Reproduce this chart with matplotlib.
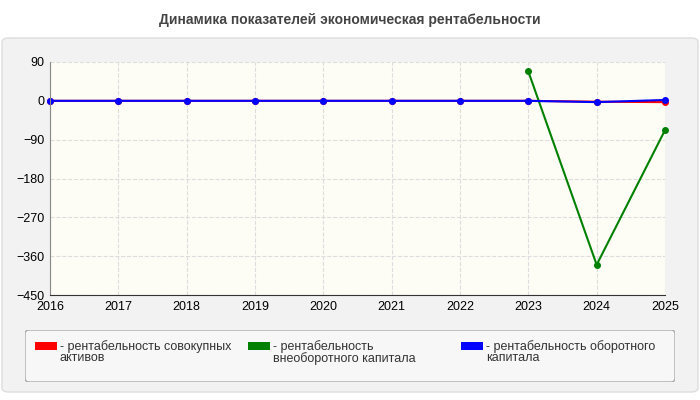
import matplotlib
matplotlib.use("Agg")
import matplotlib.pyplot as plt
from matplotlib.patches import FancyBboxPatch, Rectangle

plt.rcParams["font.family"] = ["Liberation Sans", "DejaVu Sans"]

title = "Динамика показателей экономическая рентабельности"
years = [2016, 2017, 2018, 2019, 2020, 2021, 2022, 2023, 2024, 2025]
red_vals = [0, 0, 0, 0, 0, 0, 0, 0, -2, -3]
green_years = [2023, 2024, 2025]
green_vals = [68, -380, -68]
blue_vals = [0, 0, 0, 0, 0, 0, 0, 0, -3, 2]
labels = ["- рентабельность совокупных\nактивов",
          "- рентабельность\nвнеоборотного капитала",
          "- рентабельность оборотного\nкапитала"]
colors = ["#ff0000", "#008000", "#0000ff"]
yticks = [90, 0, -90, -180, -270, -360, -450]

fig = plt.figure(figsize=(7, 4), dpi=100)
fig.patch.set_facecolor("white")
bg = FancyBboxPatch((2 / 700, 8 / 400), 696 / 700, 354 / 400, boxstyle="round,pad=0,rounding_size=0.01",
                    transform=fig.transFigure, facecolor="#f2f2f2", edgecolor="#dddddd", lw=1, zorder=-10)
fig.patches.append(bg)
fig.text(0.5, 1 - 20 / 400, title, ha="center", va="center", fontsize=10, fontweight="bold", color="#444444")

ax = fig.add_axes([50 / 700, 1 - 295 / 400, 615 / 700, 233 / 400])
ax.set_facecolor("#fdfdf5")
ax.plot(years, red_vals, color=colors[0], marker="o", ms=4, lw=1.5, clip_on=False)
ax.plot(green_years, green_vals, color=colors[1], marker="o", ms=4, lw=1.5, clip_on=False)
ax.plot(years, blue_vals, color=colors[2], marker="o", ms=4, lw=1.5, clip_on=False)
ax.set_xlim(2016, 2025)
ax.set_ylim(-450, 90)
ax.set_xticks(years)
ax.set_yticks(yticks)
ax.tick_params(labelsize=9, length=0, pad=4)
ax.grid(True, color="#dddddd", ls="--", lw=0.8)
for s in ["top", "right"]:
    ax.spines[s].set_visible(False)
ax.spines["left"].set_color("#888888")
ax.spines["bottom"].set_color("#333333")

lax = fig.add_axes([25 / 700, 1 - 382 / 400, 650 / 700, 52 / 400])
lax.set_xlim(0, 650)
lax.set_ylim(52, 0)
lax.axis("off")
lax.add_patch(FancyBboxPatch((0, 0), 650, 52, boxstyle="round,pad=0,rounding_size=4",
                             facecolor="#f7f7f7", edgecolor="#aaaaaa", lw=1))
for i, (lab, c) in enumerate(zip(labels, colors)):
    x0 = 10 + i * 213
    lax.add_patch(Rectangle((x0, 12), 22, 8, facecolor=c, edgecolor="none"))
    lax.text(x0 + 25, 10, lab, fontsize=9, va="top", ha="left", color="#333333", linespacing=0.95)

fig.savefig("out.png", dpi=100)
